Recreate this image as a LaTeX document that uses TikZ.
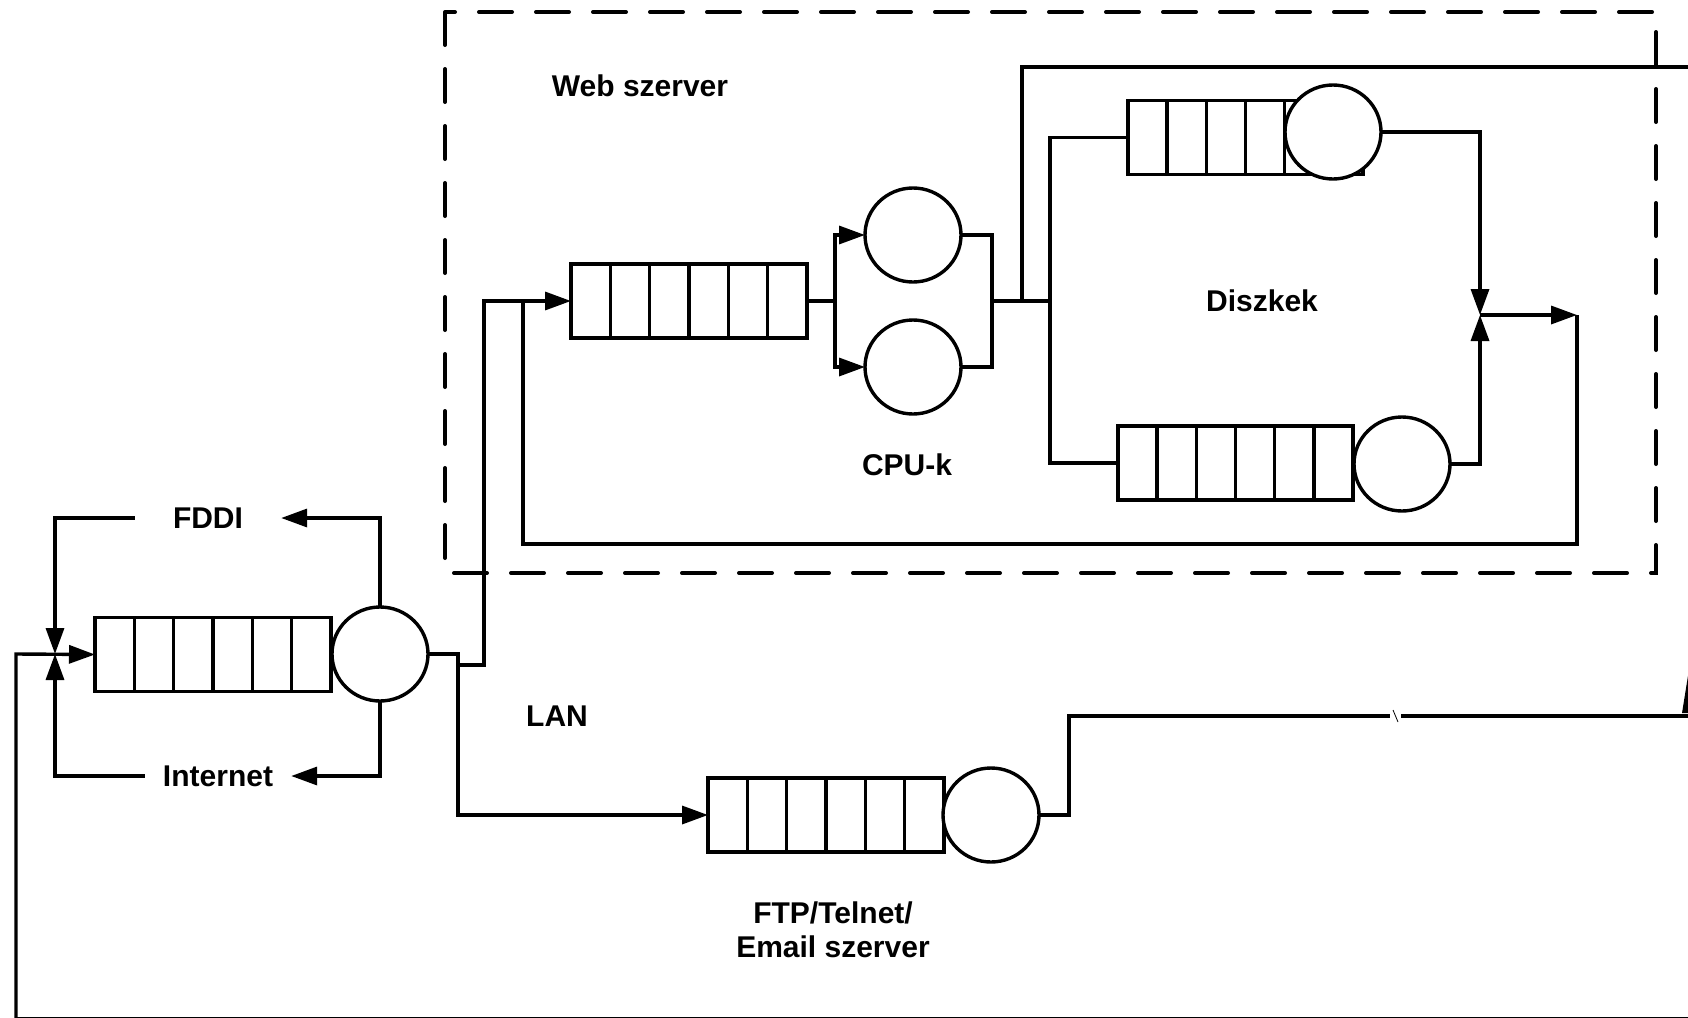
\documentclass[tikz,border=0pt]{standalone}
\usepackage{fontspec}
\setmainfont{Liberation Sans}
\usetikzlibrary{arrows.meta,shapes.geometric,calc}
\tikzset{
  lw/.style={line width=3.4pt},
  queue/.style={draw, lw, minimum width=236pt, minimum height=74pt, inner sep=0pt, outer sep=0pt},
  server/.style={draw, lw, fill=white, ellipse, minimum width=96pt, minimum height=94pt, inner sep=0pt, outer sep=0pt},
  lbl/.style={font=\fontsize{30}{34}\selectfont\bfseries, inner sep=0pt, align=center},
  arr/.style={lw, -{Triangle[length=26pt, width=18pt]}},
  conn/.style={lw},
  webbox/.style={line width=4pt, line cap=round, dash pattern=on 33pt off 24pt},
}
\begin{document}
\begin{tikzpicture}[x=1pt, y=-1pt]
\useasboundingbox (0,0) rectangle (1688,1017);

% web server box
\draw[webbox] (445,12) rectangle (1656,573);

% queues
\node[queue] (webq) at (689,301) {};
\node[queue, minimum width=235pt] (d1q) at (1245.5,137.5) {};
\node[queue, minimum width=235pt] (d2q) at (1235.5,463) {};
\node[queue] (lq) at (213,654.5) {};
\node[queue] (ftpq) at (826,815) {};
\foreach \q in {webq,d1q,d2q,lq,ftpq}
  \foreach \i in {1,...,5}
    \draw[lw] ($(\q.south west)!\i/6!(\q.south east)$) -- ($(\q.north west)!\i/6!(\q.north east)$);

% servers
\node[server] (c1) at (913,235) {};
\node[server] (c2) at (913,367) {};
\node[server] (d1c) at (1333,132) {};
\node[server] (d2c) at (1402,464) {};
\node[server] (lc) at (380,654) {};
\node[server] (ftpc) at (991,815) {};

% labels
\node[lbl] (wst) at (640,86) {Web szerver};
\node[lbl] (diszk) at (1262,301) {Diszkek};
\node[lbl] (cpuk) at (907,465) {CPU-k};
\node[lbl] (lan) at (557,716) {LAN};
\node[lbl] (ftpt) at (833,930) {FTP/Telnet/\\Email szerver};
\node[lbl, inner xsep=38pt] (fddi) at (208,518) {FDDI};
\node[lbl, inner xsep=18pt] (inet) at (218,776) {Internet};

% coordinates
\coordinate (cpuin) at (835,301);
\coordinate (cpuout) at (992,301);
\coordinate (topbr) at (1022,301);
\coordinate (topend) at (1700,67);
\coordinate (dsplit) at (1050,301);
\coordinate (merge) at (1480,315);
\coordinate (ret) at (1577,315);
\coordinate (retin) at (523,301);
\coordinate (lanj) at (458,665);
\coordinate (jn) at (55,654);
\coordinate (fbc) at (16,654);
\coordinate (fbstart) at (1700,1018.9);
\coordinate (brkL) at (1390,716);
\coordinate (brkR) at (1401,716);
\coordinate (lanend) at (1691,716);

% web server internals
\draw[conn] (webq.east) -- (cpuin);
\draw[arr] (cpuin) |- (c1.west);
\draw[arr] (cpuin) |- (c2.west);
\draw[conn] (c1.east) -| (cpuout);
\draw[conn] (c2.east) -| (cpuout);
\draw[conn] (cpuout) -- (dsplit);
\draw[conn] (topbr) |- (topend);
\draw[conn] (dsplit) |- (d1q.west);
\draw[conn] (dsplit) |- (d2q.west);
\draw[arr] (d1c.east) -| (merge);
\draw[arr] (d2c.east) -| (merge);
\draw[arr] (merge) -- (ret);
\draw[conn] (ret) -- ++(0,229) -| (retin);

% LAN
\draw[arr] (lc.east) -- ++(30,0) |- (ftpq.west);
\draw[arr] (lanj) -- ++(26,0) |- (webq.west);
\draw[arr] (lc.north) |- (fddi.east);
\draw[arr] (lc.south) |- (inet.east);
\draw[arr] (fddi.west) -| (jn);
\draw[arr] (inet.west) -| (jn);
\draw[arr] (fbstart) -| (fbc) -- (lq.west);

% FTP output
\draw[conn] (ftpc.east) -- ++(30,0) |- (brkL);
\draw[conn] (brkR) -- (lanend) -- ++(0,-40);
\draw[line width=0.8pt] (1393,710) -- (1398,722);
\fill (1682,713) -- (1691,657) -- (1700,713) -- cycle;
\end{tikzpicture}
\end{document}
